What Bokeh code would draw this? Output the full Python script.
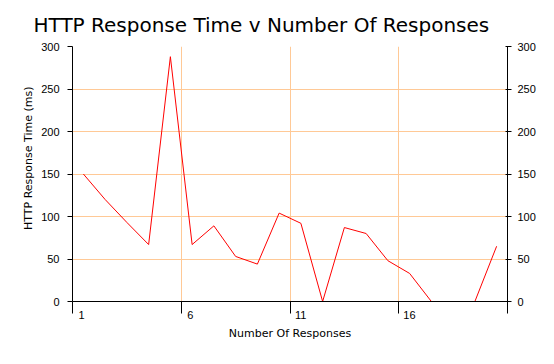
from bokeh.plotting import figure
from bokeh.models import LinearAxis, FixedTicker, Range1d
from bokeh.embed import file_html
from bokeh.resources import INLINE

# ---- data ----
response_number = [1.5, 2.5, 3.5, 4.5, 5.5, 6.5, 7.5, 8.5, 9.5, 10.5,
                   11.5, 12.5, 13.5, 14.5, 15.5, 16.5, 17.5, 18.5, 19.5, 20.5]
response_time_ms = [150, 120, 93, 67, 288, 67, 89, 53, 44, 104,
                    92, 0, 87, 80, 48, 33, 0, 0, 0, 65]
x_ticks = [1, 6, 11, 16, 21]
x_tick_labels = ["1", "6", "11", "16", ""]
y_ticks = [0, 50, 100, 150, 200, 250, 300]
TITLE = "HTTP Response Time v Number Of Responses"

GRID = "#FFC996"
TICK_FONT = "Liberation Sans"
LABEL_FONT = "DejaVu Sans"
NBSP = "\u00a0"


def padded(label):
    # labels sit to the right of their tick mark in the original
    if not label:
        return ""
    return NBSP * (5 + len(label)) + label


p = figure(width=538, height=348, output_backend="svg", toolbar_location=None,
           x_range=Range1d(1, 21), y_range=Range1d(0, 300),
           min_border_left=72, min_border_right=30,
           min_border_top=46, min_border_bottom=47,
           background_fill_color="white", border_fill_color="white")
p.outline_line_color = None

p.title.text = TITLE
p.title.text_font = LABEL_FONT
p.title.text_font_size = "20px"
p.title.text_font_style = "normal"
p.title.text_color = "black"
p.title.align = "left"
p.title.offset = -39
p.title.text_line_height = 1.0
p.title.standoff = 20

p.line(response_number, response_time_ms, line_color="red", line_width=1)

# grids
p.xgrid.ticker = FixedTicker(ticks=x_ticks)
p.ygrid.ticker = FixedTicker(ticks=y_ticks)
for g in (p.xgrid, p.ygrid):
    g.grid_line_color = GRID
    g.grid_line_width = 1
    g.grid_line_alpha = 1

# bottom axis
xa = p.xaxis[0]
xa.ticker = FixedTicker(ticks=x_ticks)
xa.major_label_overrides = {t: padded(l) for t, l in zip(x_ticks, x_tick_labels)}
xa.minor_tick_line_color = None
xa.major_tick_out = 12
xa.major_tick_in = 0
xa.major_label_standoff = -5
xa.axis_label = "Number Of Responses"
xa.axis_label_text_font = LABEL_FONT
xa.axis_label_text_font_size = "11px"
xa.axis_label_text_font_style = "normal"
xa.axis_label_text_color = "black"
xa.axis_label_standoff = 3

# left axis
ya = p.yaxis[0]
ya.ticker = FixedTicker(ticks=y_ticks)
ya.minor_tick_line_color = None
ya.major_tick_out = 5
ya.major_tick_in = 0
ya.major_label_standoff = 8
ya.axis_label = NBSP * 9 + "HTTP Response Time (ms)"
ya.axis_label_text_font = LABEL_FONT
ya.axis_label_text_font_size = "11px"
ya.axis_label_text_font_style = "normal"
ya.axis_label_text_color = "black"
ya.axis_label_standoff = 3

# right axis
ra = LinearAxis(ticker=FixedTicker(ticks=y_ticks))
ra.minor_tick_line_color = None
ra.major_tick_out = 4
ra.major_tick_in = 2
ra.major_label_standoff = 6
p.add_layout(ra, "right")

for a in (xa, ya, ra):
    a.axis_line_color = "black"
    a.major_tick_line_color = "black"
    a.major_label_text_color = "black"
    a.major_label_text_font = TICK_FONT
    a.major_label_text_font_size = "11px"

open("out.html", "w").write(file_html(p, INLINE))
